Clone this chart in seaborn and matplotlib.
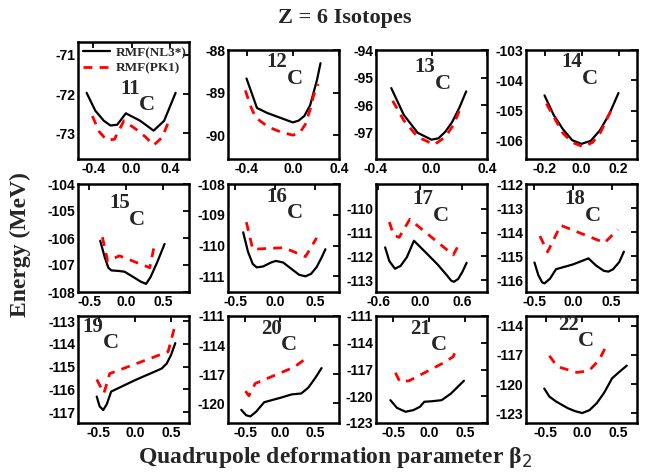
import matplotlib
matplotlib.use("Agg")
import matplotlib.pyplot as plt
import seaborn as sns
import pandas as pd

sns.set_theme(style="white")
plt.rcParams["font.family"] = ["Liberation Sans", "DejaVu Sans"]

# ---- binding energy curves E(beta2) for carbon isotopes ----
isotopes = ["11", "12", "13", "14", "15", "16", "17", "18", "19", "20", "21", "22"]

beta_11_nl3 = [-0.47, -0.38, -0.29, -0.22, -0.15, -0.06, 0.09, 0.23, 0.34, 0.46]
e_11_nl3 = [-71.97, -72.42, -72.68, -72.80, -72.78, -72.49, -72.68, -72.93, -72.68, -71.97]
beta_11_pk1 = [-0.41, -0.34, -0.26, -0.18, -0.08, 0.05, 0.15, 0.23, 0.32, 0.39]
e_11_pk1 = [-72.56, -72.95, -73.17, -73.15, -72.68, -72.90, -73.10, -73.30, -73.10, -72.68]

beta_12_nl3 = [-0.40, -0.35, -0.31, -0.22, -0.15, -0.05, 0.00, 0.05, 0.10, 0.15, 0.18, 0.21, 0.24]
e_12_nl3 = [-88.67, -89.05, -89.36, -89.48, -89.55, -89.65, -89.70, -89.66, -89.55, -89.30, -89.00, -88.70, -88.31]
beta_12_pk1 = [-0.41, -0.36, -0.32, -0.21, -0.10, 0.00, 0.06, 0.11, 0.15, 0.18, 0.22]
e_12_pk1 = [-88.95, -89.35, -89.59, -89.81, -89.93, -90.00, -89.95, -89.74, -89.40, -89.07, -88.80]

beta_13_nl3 = [-0.29, -0.20, -0.10, 0.00, 0.05, 0.10, 0.15, 0.20, 0.25]
e_13_nl3 = [-95.38, -96.35, -97.00, -97.25, -97.20, -96.96, -96.60, -96.10, -95.50]
beta_13_pk1 = [-0.28, -0.20, -0.10, 0.02, 0.10, 0.16, 0.21]
e_13_pk1 = [-95.84, -96.55, -97.15, -97.43, -97.15, -96.70, -96.08]

beta_14_nl3 = [-0.20, -0.15, -0.10, -0.05, 0.00, 0.05, 0.10, 0.15, 0.20]
e_14_nl3 = [-104.50, -105.15, -105.62, -105.98, -106.10, -106.00, -105.65, -105.12, -104.42]
beta_14_pk1 = [-0.19, -0.10, -0.05, 0.01, 0.06, 0.10, 0.16]
e_14_pk1 = [-104.77, -105.75, -106.05, -106.20, -106.05, -105.75, -104.99]

beta_15_nl3 = [-0.35, -0.29, -0.24, -0.20, -0.10, -0.02, 0.10, 0.20, 0.27, 0.33, 0.42, 0.52]
e_15_nl3 = [-106.10, -106.70, -107.10, -107.20, -107.22, -107.25, -107.45, -107.62, -107.70, -107.45, -106.90, -106.22]
beta_15_pk1 = [-0.32, -0.25, -0.09, 0.32, 0.39]
e_15_pk1 = [-105.97, -106.85, -106.66, -107.10, -106.16]

beta_16_nl3 = [-0.40, -0.34, -0.28, -0.23, -0.15, -0.05, 0.01, 0.10, 0.20, 0.30, 0.38, 0.45, 0.52, 0.58, 0.63]
e_16_nl3 = [-109.57, -110.20, -110.60, -110.71, -110.68, -110.55, -110.50, -110.55, -110.75, -110.95, -111.00, -110.92, -110.70, -110.40, -110.12]
beta_16_pk1 = [-0.36, -0.28, 0.11, 0.38, 0.52]
e_16_pk1 = [-109.24, -110.12, -110.07, -110.36, -109.75]

beta_17_nl3 = [-0.50, -0.44, -0.36, -0.28, -0.19, -0.09, 0.10, 0.25, 0.38, 0.44, 0.48, 0.54, 0.60, 0.66]
e_17_nl3 = [-111.62, -112.20, -112.52, -112.40, -112.03, -111.34, -111.90, -112.35, -112.80, -113.02, -113.07, -112.95, -112.65, -112.27]
beta_17_pk1 = [-0.44, -0.38, -0.30, -0.15, 0.47, 0.57]
e_17_pk1 = [-110.55, -111.10, -111.20, -110.44, -111.94, -111.38]

beta_18_nl3 = [-0.50, -0.45, -0.40, -0.37, -0.30, -0.22, 0.00, 0.20, 0.30, 0.40, 0.46, 0.52, 0.60, 0.66]
e_18_nl3 = [-115.27, -115.80, -116.10, -116.14, -115.95, -115.55, -115.35, -115.10, -115.40, -115.62, -115.65, -115.55, -115.25, -114.82]
beta_18_pk1 = [-0.43, -0.33, -0.16, 0.41, 0.58]
e_18_pk1 = [-114.17, -114.83, -113.72, -114.45, -113.90]

beta_19_nl3 = [-0.53, -0.49, -0.44, -0.39, -0.33, 0.00, 0.37, 0.44, 0.50, 0.56]
e_19_nl3 = [-116.32, -116.75, -116.91, -116.65, -116.10, -115.60, -115.09, -114.87, -114.50, -113.97]
beta_19_pk1 = [-0.53, -0.43, -0.35, 0.46, 0.56]
e_19_pk1 = [-115.57, -116.17, -115.31, -114.35, -113.15]

beta_20_nl3 = [-0.56, -0.49, -0.43, -0.35, -0.23, 0.00, 0.16, 0.30, 0.40, 0.50, 0.59]
e_20_nl3 = [-120.69, -121.25, -121.37, -120.90, -119.90, -119.45, -119.10, -119.00, -118.40, -117.40, -116.38]
beta_20_pk1 = [-0.50, -0.45, -0.36, 0.20, 0.41]
e_20_pk1 = [-118.76, -119.24, -117.97, -116.27, -115.15]

beta_21_nl3 = [-0.54, -0.45, -0.33, -0.22, -0.13, -0.07, 0.05, 0.17, 0.30, 0.40, 0.48]
e_21_nl3 = [-120.44, -121.30, -121.74, -121.55, -121.18, -120.62, -120.55, -120.44, -119.70, -118.90, -118.26]
beta_21_pk1 = [-0.47, -0.41, -0.28, 0.20, 0.33, 0.39]
e_21_pk1 = [-117.36, -118.37, -118.26, -116.24, -115.57, -114.44]

beta_22_nl3 = [-0.52, -0.45, -0.36, -0.20, -0.10, 0.00, 0.10, 0.20, 0.30, 0.41, 0.50, 0.61]
e_22_nl3 = [-120.47, -121.30, -121.80, -122.49, -122.80, -123.00, -122.70, -121.97, -120.90, -119.40, -118.80, -118.10]
beta_22_pk1 = [-0.45, -0.34, -0.07, 0.09, 0.23, 0.34]
e_22_pk1 = [-117.08, -118.21, -118.80, -118.65, -117.52, -115.92]

nl3_beta = [beta_11_nl3, beta_12_nl3, beta_13_nl3, beta_14_nl3, beta_15_nl3, beta_16_nl3,
            beta_17_nl3, beta_18_nl3, beta_19_nl3, beta_20_nl3, beta_21_nl3, beta_22_nl3]
nl3_energy = [e_11_nl3, e_12_nl3, e_13_nl3, e_14_nl3, e_15_nl3, e_16_nl3,
              e_17_nl3, e_18_nl3, e_19_nl3, e_20_nl3, e_21_nl3, e_22_nl3]
pk1_beta = [beta_11_pk1, beta_12_pk1, beta_13_pk1, beta_14_pk1, beta_15_pk1, beta_16_pk1,
            beta_17_pk1, beta_18_pk1, beta_19_pk1, beta_20_pk1, beta_21_pk1, beta_22_pk1]
pk1_energy = [e_11_pk1, e_12_pk1, e_13_pk1, e_14_pk1, e_15_pk1, e_16_pk1,
              e_17_pk1, e_18_pk1, e_19_pk1, e_20_pk1, e_21_pk1, e_22_pk1]

# tick values per panel
yticks = [[-71, -72, -73], [-88, -89, -90], [-94, -95, -96, -97], [-103, -104, -105, -106],
          [-104, -105, -106, -107, -108], [-108, -109, -110, -111], [-110, -111, -112, -113],
          [-112, -113, -114, -115, -116], [-113, -114, -115, -116, -117], [-111, -114, -117, -120],
          [-111, -114, -117, -120, -123], [-114, -117, -120, -123]]
xticks = [[-0.4, 0.0, 0.4], [-0.4, 0.0, 0.4], [-0.4, 0.0, 0.4], [-0.2, 0.0, 0.2],
          [-0.5, 0.0, 0.5], [-0.5, 0.0, 0.5], [-0.6, 0.0, 0.6], [-0.5, 0.0, 0.5],
          [-0.5, 0.0, 0.5], [-0.5, 0.0, 0.5], [-0.5, 0.0, 0.5], [-0.5, 0.0, 0.5]]

# axis ranges per panel
xlims = [(-0.56, 0.6), (-0.56, 0.4), (-0.4, 0.4), (-0.3, 0.3),
         (-0.65, 0.85), (-0.59, 0.8), (-0.63, 0.95), (-0.61, 0.83),
         (-0.79, 0.75), (-0.75, 0.84), (-0.74, 0.8), (-0.77, 0.75)]
ylims = [(-73.65, -70.68), (-90.56, -88.0), (-97.95, -94.0), (-106.6, -103.0),
         (-108.0, -104.0), (-111.51, -108.0), (-113.5, -108.95), (-116.5, -112.0),
         (-117.48, -112.78), (-122.05, -111.0), (-123.0, -111.0), (-124.03, -112.97)]

# isotope label anchor (axes fraction)
label_pos = [(0.38, 0.60), (0.35, 0.89), (0.35, 0.84), (0.32, 0.89),
             (0.28, 0.82), (0.35, 0.88), (0.33, 0.86), (0.35, 0.86),
             (0.04, 0.90), (0.30, 0.88), (0.31, 0.88), (0.29, 0.92)]

W, H = 647, 474
fig = plt.figure(figsize=(W / 100, H / 100), dpi=100)

col_left = [78, 228, 376, 526]
row_top = [42, 184, 316]
row_bot = [159, 292, 423]
panel_w = 111

serif = ["Liberation Serif", "DejaVu Serif"]

for i, iso in enumerate(isotopes):
    r, c = divmod(i, 4)
    top = 50 if (r == 0 and c > 0) else row_top[r]
    ax = fig.add_axes([col_left[c] / W, 1 - row_bot[r] / H, panel_w / W, (row_bot[r] - top) / H])
    df_nl3 = pd.DataFrame({"beta": nl3_beta[i], "E": nl3_energy[i]})
    df_pk1 = pd.DataFrame({"beta": pk1_beta[i], "E": pk1_energy[i]})
    sns.lineplot(data=df_nl3, x="beta", y="E", ax=ax, color="black", lw=1.6,
                 sort=False, estimator=None, label="RMF(NL3*)" if i == 0 else None)
    sns.lineplot(data=df_pk1, x="beta", y="E", ax=ax, color="#ff0000", lw=2.0,
                 sort=False, estimator=None, dashes=False,
                 label="RMF(PK1)" if i == 0 else None)
    ax.lines[-1].set_linestyle((0, (3.2, 2.6)))
    ax.set_xlim(*xlims[i])
    ax.set_ylim(*ylims[i])
    ax.set_xticks(xticks[i])
    ax.set_yticks(yticks[i])
    ax.set_xticklabels([f"{v:.1f}" for v in xticks[i]])
    ax.set_yticklabels([str(v) for v in yticks[i]])
    ax.set_xlabel("")
    ax.set_ylabel("")
    ax.tick_params(direction="in", length=4, width=1.3, top=True, right=True,
                   labelsize=10, pad=2, colors="black")
    for lab in ax.get_xticklabels() + ax.get_yticklabels():
        lab.set_fontweight("bold")
    for sp in ax.spines.values():
        sp.set_linewidth(1.8)
        sp.set_color("black")
    lx, ly = label_pos[i]
    t = ax.text(lx, ly, iso, transform=ax.transAxes, fontsize=15, fontweight="bold",
                family=serif, ha="left", va="center")
    ax.annotate("C", xy=(1, 0), xycoords=t, xytext=(-0.5, 2.5), textcoords="offset points",
                fontsize=16, fontweight="bold", family=serif, ha="left", va="top")
    if i == 0:
        leg = ax.legend(loc="upper left", frameon=False,
                        prop={"family": serif, "weight": "bold", "size": 9.5},
                        handlelength=2.1, borderaxespad=0.15, borderpad=0.2,
                        labelspacing=0.25, handletextpad=0.4)
    elif ax.get_legend() is not None:
        ax.get_legend().remove()

fig.text(345 / W, 1 - 18 / H, "Z = 6 Isotopes", ha="center", va="center",
         fontsize=16, fontweight="bold", family=serif)
fig.text(20 / W, 1 - 245 / H, "Energy (MeV)", ha="center", va="center", rotation=90,
         fontsize=17, fontweight="bold", family=serif)
fig.text(335 / W, 1 - 458 / H, r"Quadrupole deformation parameter β$_2$", ha="center", va="center",
         fontsize=17, fontweight="bold", family=serif)

fig.savefig("out.png", dpi=100)
